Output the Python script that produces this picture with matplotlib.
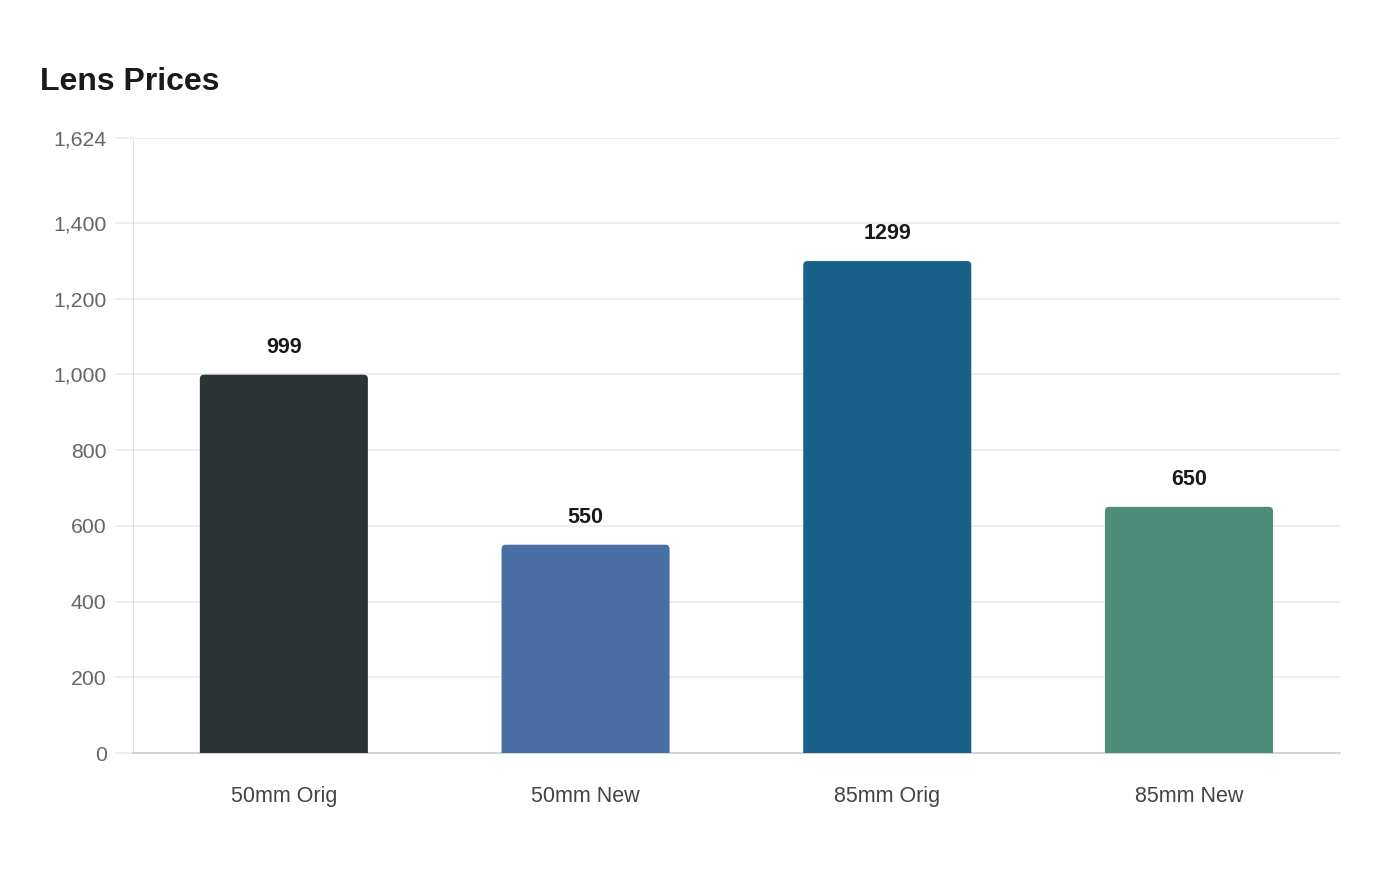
import matplotlib.pyplot as plt
from matplotlib.patches import FancyBboxPatch

categories = ["50mm Orig", "50mm New", "85mm Orig", "85mm New"]
prices = [999, 550, 1299, 650]
bar_colors = ["#2d3436", "#4a6fa5", "#17608a", "#4e8d7a"]
y_ticks = [0, 200, 400, 600, 800, 1000, 1200, 1400, 1624]
y_max = 1624

plt.rcParams["font.family"] = ["Liberation Sans", "DejaVu Sans"]


def main():
    fig = plt.figure(figsize=(14, 8.8), dpi=100)
    ax = fig.add_axes([0.095, 0.1443, 0.862, 0.6989])

    ax.set_xlim(-0.5, len(categories) - 0.5)
    ax.set_ylim(0, y_max)

    bar_width = 0.557
    radius = 0.014
    # aspect so rounded corners look circular in pixels
    px_per_x = 1207 / len(categories)
    px_per_y = 615 / y_max
    aspect = px_per_x / px_per_y

    for i, (val, col) in enumerate(zip(prices, bar_colors)):
        patch = FancyBboxPatch(
            (i - bar_width / 2, -20), bar_width, val + 20,
            boxstyle=f"round,pad=0,rounding_size={radius}",
            mutation_aspect=aspect,
            facecolor=col, edgecolor="none", zorder=3,
        )
        ax.add_patch(patch)
        ax.annotate(str(val), (i, val), xytext=(0, 12), textcoords="offset points",
                    ha="center", va="bottom", fontsize=15.5, fontweight="bold",
                    color="#1a1a1a")

    ax.set_xticks(range(len(categories)))
    ax.set_xticklabels(categories)
    ax.set_yticks(y_ticks)
    ax.set_yticklabels([f"{t:,}" for t in y_ticks])

    ax.grid(axis="y", color="#ebebeb", linewidth=1.2, zorder=0)
    ax.set_axisbelow(True)

    ax.tick_params(axis="x", length=0, pad=24, labelsize=15.5, labelcolor="#444444")
    ax.tick_params(axis="y", length=13, width=1.2, color="#ebebeb", pad=6,
                   labelsize=15.3, labelcolor="#666666")

    for side in ["top", "right"]:
        ax.spines[side].set_visible(False)
    ax.spines["left"].set_color("#e0e0e0")
    ax.spines["bottom"].set_color("#cccccc")
    ax.spines["bottom"].set_linewidth(1.2)

    fig.text(40 / 1400, 1 - 82 / 880, "Lens Prices", fontsize=23, fontweight="bold",
             color="#1a1a1a", ha="left", va="center")

    fig.savefig("out.png", dpi=100)


if __name__ == "__main__":
    main()
